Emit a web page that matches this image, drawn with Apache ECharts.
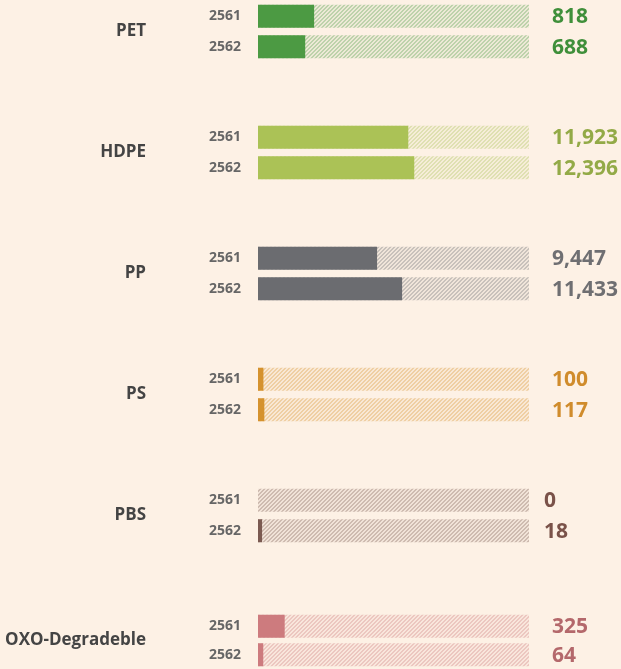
<!DOCTYPE html>
<html>
<head>
<meta charset="utf-8">
<script src="https://cdn.jsdelivr.net/npm/echarts@6/dist/echarts.min.js"></script>
<style>
  html, body { margin: 0; padding: 0; background: #fdf1e5; }
  #chart { width: 621px; height: 669px; }
</style>
</head>
<body>
<div id="chart"></div>
<script>
// data
const groups = ['PET', 'HDPE', 'PP', 'PS', 'PBS', 'OXO-Degradeble']
const years = ['2561', '2562']
const v2561 = [818, 11923, 9447, 100, 0, 325]
const v2562 = [688, 12396, 11433, 117, 18, 64]
// each group in the infographic has its own bar scale
const scaleMax = [3950, 21500, 21500, 5000, 1200, 3300]

const barColors = ['#4c9a43', '#abc256', '#6b6c70', '#d5922e', '#7b5a51', '#cd7b7e']
const labelColors = ['#3f8f3a', '#93aa47', '#6f6f72', '#d08c2c', '#7a5249', '#b4686b']
const gridTops = [1, 122, 243, 364, 485, 612]
const labelShift = [0, 0, 0, 0, -8, 0]
const bg = [253, 241, 229]

function hexRgb(h) {
  return [parseInt(h.substr(1, 2), 16), parseInt(h.substr(3, 2), 16), parseInt(h.substr(5, 2), 16)]
}

// striped tile for the empty part of the track
function hatch(hex) {
  const c = hexRgb(hex)
  const cv = document.createElement('canvas')
  cv.width = 4
  cv.height = 4
  const ctx = cv.getContext('2d')
  const img = ctx.createImageData(4, 4)
  for (let y = 0; y < 4; y++) {
    for (let x = 0; x < 4; x++) {
      const a = ((x + y) % 4 < 2) ? 0.36 : 0.09
      const i = (y * 4 + x) * 4
      for (let k = 0; k < 3; k++) img.data[i + k] = Math.round(bg[k] * (1 - a) + c[k] * a)
      img.data[i + 3] = 255
    }
  }
  ctx.putImageData(img, 0, 0)
  return cv
}

const grid = []
const xAxis = []
const yAxis = []
const series = []

groups.forEach((g, i) => {
  grid.push({ left: 258, width: 271, top: gridTops[i], height: 61 })
  xAxis.push({
    gridIndex: i, type: 'value', min: 0, max: scaleMax[i],
    show: false
  })
  yAxis.push({
    gridIndex: i, type: 'category', data: years, inverse: true,
    axisLine: { show: false },
    axisTick: { show: false },
    axisLabel: { color: '#666', fontSize: 14, fontWeight: 'bold', margin: 17, fontFamily: 'Open Sans' },
    name: g,
    nameLocation: 'middle',
    nameRotate: 0,
    nameGap: 112,
    nameTextStyle: { color: '#444', fontSize: 17, fontWeight: 'bold', fontFamily: 'Open Sans' }
  })
  const vals = [v2561[i], v2562[i]]
  // background track, carries the value label
  series.push({
    type: 'bar', xAxisIndex: i, yAxisIndex: i,
    barWidth: 23, barGap: '-100%',
    silent: true,
    itemStyle: { color: { image: hatch(barColors[i]), repeat: 'repeat' } },
    label: {
      show: true, position: 'right', distance: 23,
      offset: [labelShift[i], 1],
      color: labelColors[i], fontSize: 21, fontWeight: 'bold', fontFamily: 'Open Sans',
      formatter: p => vals[p.dataIndex].toLocaleString('en-US')
    },
    data: vals.map(() => scaleMax[i])
  })
  // filled part
  series.push({
    type: 'bar', xAxisIndex: i, yAxisIndex: i,
    barWidth: 23, barGap: '-100%',
    itemStyle: { color: barColors[i] },
    data: vals
  })
})

const myChart = echarts.init(document.getElementById('chart'))
myChart.setOption({
  backgroundColor: '#fdf1e5',
  animation: false,
  grid: grid,
  xAxis: xAxis,
  yAxis: yAxis,
  series: series
})
</script>
</body>
</html>
